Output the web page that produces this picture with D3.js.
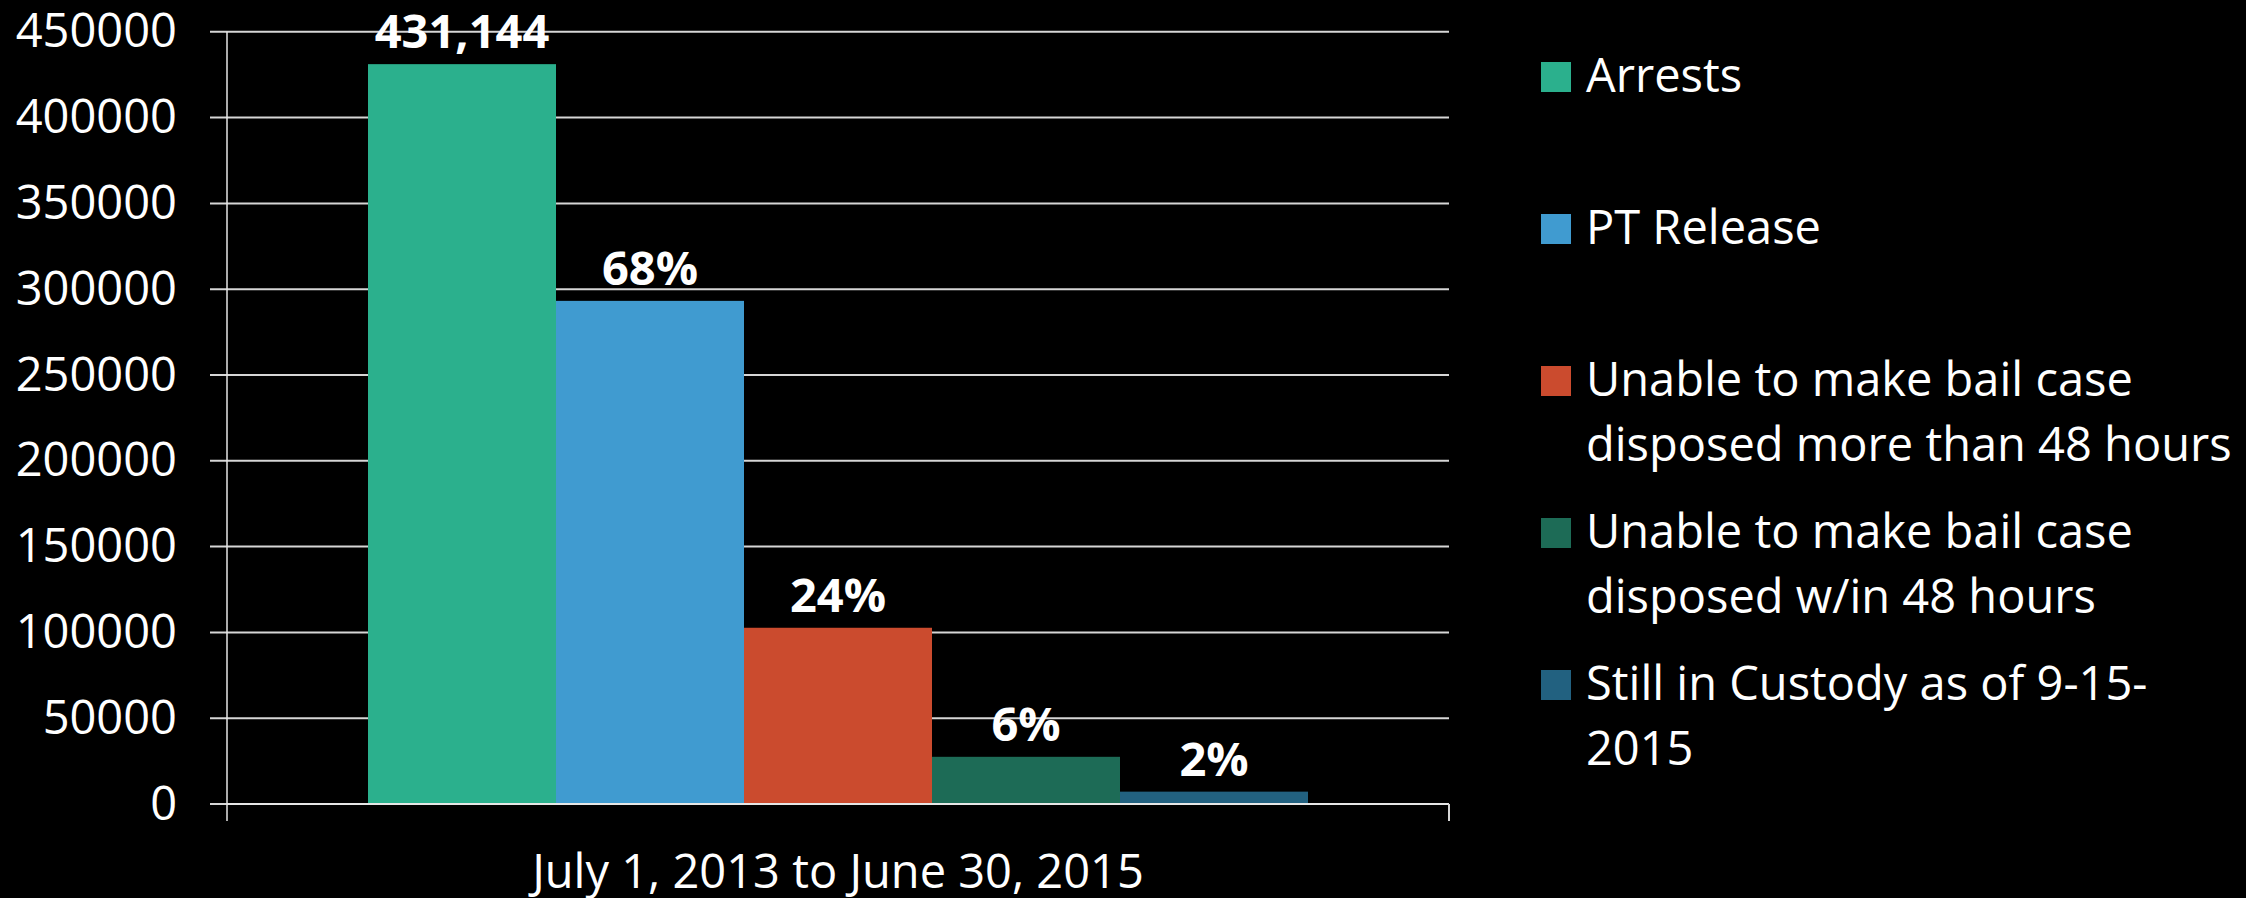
<!DOCTYPE html>
<html>
<head>
<meta charset="utf-8">
<script src="https://cdn.jsdelivr.net/npm/d3@7"></script>
<style>
  html, body { margin: 0; padding: 0; background: #000; }
  svg { display: block; }
  text { font-family: "Open Sans", "Noto Sans", sans-serif; fill: #fff; }
</style>
</head>
<body>
<svg id="chart" width="2246" height="898"></svg>
<script>
// Pretrial outcomes, single period
const categories = ["July 1, 2013 to June 30, 2015"];
const seriesNames = [
  "Arrests",
  "PT Release",
  "Unable to make bail case disposed more than 48 hours",
  "Unable to make bail case disposed w/in 48 hours",
  "Still in Custody as of 9-15-2015"
];
const legendLines = [
  ["Arrests"],
  ["PT Release"],
  ["Unable to make bail case", "disposed more than 48 hours"],
  ["Unable to make bail case", "disposed w/in 48 hours"],
  ["Still in Custody as of 9-15-", "2015"]
];
const seriesValues = [431144, 293200, 102700, 27500, 7200];
const seriesColors = ["#2bb08d", "#409bd0", "#cb4b2e", "#1d6b56", "#226180"];
const yTicks = [0, 50000, 100000, 150000, 200000, 250000, 300000, 350000, 400000, 450000];

const svg = d3.select("#chart");
const plot = { left: 227, right: 1449, top: 31.8, bottom: 804 };

const y = d3.scaleLinear().domain([0, 450000]).range([plot.bottom, plot.top]);
const x0 = d3.scaleBand().domain(categories).range([plot.left, plot.right]);
const x1 = d3.scaleBand().domain(seriesNames)
  .range([0, x0.bandwidth()]).paddingInner(0).paddingOuter(0.75);

// horizontal gridlines with short ticks to the left of the axis
svg.append("g").selectAll("line").data(yTicks).join("line")
  .attr("x1", plot.left - 17).attr("x2", plot.right)
  .attr("y1", d => y(d)).attr("y2", d => y(d))
  .attr("stroke", "#d6d6d6").attr("stroke-width", 2);

// value axis
const yAxis = d3.axisLeft(y).tickValues(yTicks).tickFormat(d3.format("d"))
  .tickSize(0).tickPadding(50);
const gy = svg.append("g").attr("transform", `translate(${plot.left},0)`).call(yAxis);
gy.select(".domain").remove();
gy.selectAll("text").attr("font-size", 47).attr("fill", "#fff")
  .attr("font-family", "'Open Sans', sans-serif");

// vertical axis line, extending below the baseline
svg.append("line")
  .attr("x1", plot.left).attr("x2", plot.left)
  .attr("y1", plot.top).attr("y2", plot.bottom + 17)
  .attr("stroke", "#e6e6e6").attr("stroke-width", 1.5);

// bars
const bars = svg.append("g");
categories.forEach(cat => {
  bars.selectAll(null).data(seriesNames).join("rect")
    .attr("x", d => x0(cat) + x1(d))
    .attr("width", x1.bandwidth())
    .attr("y", (d, i) => y(seriesValues[i]))
    .attr("height", (d, i) => y(0) - y(seriesValues[i]))
    .attr("fill", (d, i) => seriesColors[i]);
});

// category axis
const xAxis = d3.axisBottom(x0).tickSize(0).tickPadding(0).tickFormat("");
const gx = svg.append("g").attr("transform", `translate(0,${plot.bottom})`).call(xAxis);
gx.select(".domain").attr("stroke", "#e6e6e6").attr("stroke-width", 2)
  .attr("d", `M${plot.left},0H${plot.right}`);
svg.append("line")
  .attr("x1", plot.right).attr("x2", plot.right)
  .attr("y1", plot.bottom).attr("y2", plot.bottom + 17)
  .attr("stroke", "#d6d6d6").attr("stroke-width", 2);
svg.append("g").selectAll("text").data(categories).join("text")
  .attr("x", d => x0(d) + x0.bandwidth() / 2)
  .attr("y", 888)
  .attr("text-anchor", "middle")
  .attr("font-size", 47)
  .text(d => d);

// value labels: total arrests as a count, the rest as a share of arrests
const total = seriesValues[0];
const labelText = (v, i) => i === 0 ? d3.format(",")(v) : Math.round(v / total * 100) + "%";
categories.forEach(cat => {
  svg.append("g").selectAll("text").data(seriesNames).join("text")
    .attr("x", d => x0(cat) + x1(d) + x1.bandwidth() / 2)
    .attr("y", (d, i) => y(seriesValues[i]) - 16)
    .attr("text-anchor", "middle")
    .attr("font-size", 47)
    .attr("font-weight", 700)
    .text((d, i) => labelText(seriesValues[i], i));
});

// legend
const legend = svg.append("g").attr("transform", "translate(1541,0)");
const entryY = d3.scalePoint().domain(seriesNames).range([77, 685]);
const item = legend.selectAll("g").data(seriesNames).join("g")
  .attr("transform", d => `translate(0,${entryY(d)})`);
item.append("rect")
  .attr("x", 0).attr("y", -15).attr("width", 30).attr("height", 30)
  .attr("fill", (d, i) => seriesColors[i]);
item.each(function(d, i) {
  const t = d3.select(this).append("text")
    .attr("x", 45).attr("y", 15).attr("font-size", 47);
  legendLines[i].forEach((line, j) => {
    t.append("tspan").attr("x", 45).attr("dy", j === 0 ? 0 : 65).text(line);
  });
});
</script>
</body>
</html>
